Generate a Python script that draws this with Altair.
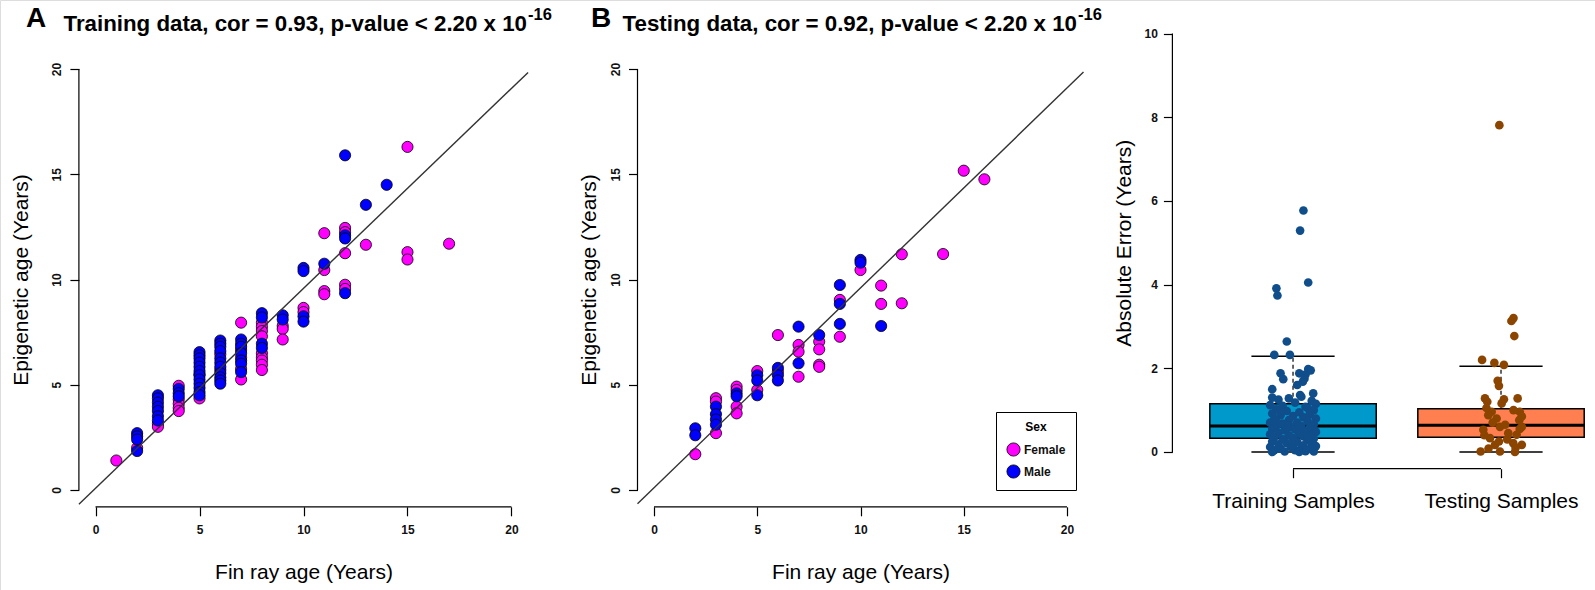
import altair as alt
import pandas as pd

FONT = "Liberation Sans"

# ---------------- data ----------------
# Panel A: training samples (fin ray age, epigenetic age, sex)
train_age = [1,
             2, 2, 2, 2, 2,
             3, 3, 3, 3, 3, 3, 3, 3, 3,
             4, 4, 4, 4, 4, 4, 4, 4,
             5, 5, 5, 5, 5, 5, 5, 5, 5, 5, 5, 5, 5, 5,
             6, 6, 6, 6, 6, 6, 6, 6, 6, 6, 6, 6, 6,
             7, 7, 7, 7, 7, 7, 7, 7, 7, 7, 7, 7,
             8, 8, 8, 8, 8, 8, 8, 8, 8, 8, 8, 8, 8,
             9, 9, 9, 9, 9,
             10, 10, 10, 10, 10, 10,
             11, 11, 11, 11, 11,
             12, 12, 12, 12, 12, 12, 12, 12, 12,
             13, 13,
             14,
             15, 15, 15,
             17]
train_epi = [1.4,
             2.7, 2.55, 2.4, 2.0, 1.85,
             4.5, 4.35, 4.15, 3.95, 3.75, 3.5, 3.3, 3.15, 3.0,
             4.95, 4.8, 4.6, 4.45, 4.3, 4.1, 3.9, 3.75,
             6.55, 6.4, 6.25, 6.05, 5.85, 5.65, 5.5, 5.45, 5.25, 5.05, 4.85, 4.65, 4.5, 4.35,
             7.1, 6.95, 6.8, 6.6, 6.45, 6.25, 6.05, 5.85, 5.7, 5.55, 5.35, 5.2, 5.05,
             7.95, 7.15, 6.95, 6.8, 6.65, 6.5, 6.3, 6.15, 6.0, 5.75, 5.6, 5.25,
             8.4, 8.2, 7.95, 7.75, 7.55, 7.3, 6.95, 6.75, 6.5, 6.3, 6.15, 5.95, 5.7,
             8.3, 8.1, 7.8, 7.65, 7.15,
             10.55, 10.4, 8.65, 8.45, 8.25, 8.0,
             12.2, 10.75, 10.45, 9.45, 9.3,
             15.9, 12.45, 12.25, 12.1, 11.95, 11.25, 9.75, 9.55, 9.35,
             13.55, 11.65,
             14.5,
             16.3, 11.3, 10.95,
             11.7]
train_sex = ["Female",
             "Male", "Male", "Male", "Female", "Male",
             "Male", "Male", "Male", "Male", "Male", "Male", "Male", "Female", "Female",
             "Female", "Male", "Male", "Male", "Female", "Female", "Female", "Female",
             "Male", "Male", "Male", "Male", "Male", "Male", "Female", "Male", "Male", "Male", "Male", "Male", "Male", "Female",
             "Male", "Male", "Male", "Male", "Female", "Male", "Male", "Male", "Female", "Male", "Male", "Male", "Male",
             "Female", "Male", "Male", "Male", "Female", "Male", "Female", "Male", "Male", "Female", "Male", "Female",
             "Male", "Male", "Female", "Female", "Female", "Female", "Male", "Male", "Female", "Female", "Female", "Female", "Female",
             "Male", "Male", "Female", "Female", "Female",
             "Male", "Male", "Female", "Female", "Male", "Male",
             "Female", "Male", "Female", "Female", "Female",
             "Male", "Female", "Female", "Male", "Male", "Female", "Female", "Female", "Male",
             "Male", "Female",
             "Male",
             "Female", "Female", "Female",
             "Female"]

# Panel B: testing samples
test_age = [2, 2, 2,
            3, 3, 3, 3, 3, 3, 3,
            4, 4, 4, 4, 4, 4,
            5, 5, 5, 5, 5,
            6, 6, 6, 6, 6,
            7, 7, 7, 7, 7,
            8, 8, 8, 8, 8,
            9, 9, 9, 9, 9,
            10, 10, 10,
            11, 11, 11,
            12, 12,
            14, 15, 16]
test_epi = [2.93, 2.6, 1.7,
            4.36, 4.2, 3.96, 3.6, 3.35, 3.1, 2.7,
            4.91, 4.75, 4.59, 4.45, 3.96, 3.64,
            5.65, 5.45, 5.2, 4.75, 4.5,
            7.36, 5.8, 5.62, 5.45, 5.2,
            7.76, 6.89, 6.57, 6.02, 5.38,
            7.36, 7.05, 6.68, 5.95, 5.85,
            9.74, 9.03, 8.84, 7.89, 7.28,
            10.93, 10.8, 10.45,
            9.71, 8.84, 7.79,
            11.2, 8.87,
            11.21, 15.17, 14.76]
test_sex = ["Male", "Male", "Female",
            "Female", "Female", "Male", "Male", "Male", "Male", "Female",
            "Female", "Female", "Male", "Male", "Female", "Female",
            "Female", "Male", "Male", "Female", "Male",
            "Female", "Male", "Female", "Male", "Male",
            "Male", "Female", "Female", "Male", "Female",
            "Male", "Female", "Female", "Female", "Female",
            "Male", "Female", "Male", "Male", "Female",
            "Male", "Male", "Female",
            "Female", "Female", "Male",
            "Female", "Female",
            "Female", "Female", "Female"]

# fitted lines (end points across the plot region)
fit_x = [-0.8, 20.8]
fit_a_y = [-0.68, 19.84]
fit_b_y = [-0.66, 19.86]

sex_levels = ["Female", "Male"]
sex_colors = ["#FF00FF", "#0000FF"]

# Panel C: absolute errors with jitter offsets
c_train_jit = [0.05, 0.034, 0.073, -0.08, -0.075, -0.03, -0.09, -0.015, -0.06, -0.047,
               0.03, 0.073, 0.047, -0.10, 0.097, 0.034, 0.06, 0.085, 0.055, 0.02,
               -0.10, -0.07, -0.02, 0.04, 0.09, 0.11, -0.11, -0.05, 0.01, 0.06,
               -0.08, 0.10, -0.03, 0.03, -0.10, 0.08, -0.06, 0.00, 0.05, 0.11,
               -0.09, -0.02, 0.07, -0.11, 0.02, -0.05, 0.10, -0.08, 0.04, -0.01,
               0.08, -0.10, 0.01, -0.04, 0.06, 0.11, -0.07, 0.03, -0.11, 0.09,
               -0.02, 0.05, -0.09, 0.00, 0.10, -0.05, 0.07, -0.10, 0.02, -0.03,
               0.09, -0.07, 0.05, 0.11, -0.11, -0.01, 0.04, -0.06, 0.08, -0.09,
               0.01, 0.06, -0.04, 0.10, -0.10, 0.03, -0.06, 0.07, -0.03, 0.00,
               0.08, -0.08]
c_train_err = [5.77, 5.29, 4.05, 3.91, 3.74, 2.64, 2.32, 2.32, 1.88, 1.74,
               1.88, 1.98, 1.68, 1.50, 1.40, 1.36, 1.85, 1.95, 1.75, 1.60,
               1.30, 1.25, 1.28, 1.32, 1.22, 1.15, 1.12, 1.10, 1.18, 1.08,
               1.02, 1.00, 0.98, 0.95, 0.92, 0.90, 0.88, 0.86, 0.83, 0.80,
               0.78, 0.76, 0.74, 0.70, 0.70, 0.68, 0.66, 0.63, 0.62, 0.60,
               0.58, 0.55, 0.54, 0.52, 0.50, 0.48, 0.46, 0.45, 0.42, 0.41,
               0.40, 0.37, 0.35, 0.33, 0.32, 0.30, 0.28, 0.25, 0.24, 0.21,
               0.20, 0.18, 0.16, 0.14, 0.12, 0.12, 0.10, 0.08, 0.07, 0.04,
               0.04, 0.02, 0.01, 0.01, 0.00, 0.00, 0.95, 1.05, 0.65, 0.15,
               0.38, 0.72]
c_test_jit = [-0.008, 0.05, 0.06, 0.064, -0.091, -0.032, 0.014, -0.016, -0.01, -0.077,
              0.014, 0.08, -0.066, 0.003, -0.045, 0.09, -0.061, -0.021, 0.088, -0.085,
              -0.005, 0.035, 0.075, -0.053, -0.029, 0.059, 0.10, -0.098, -0.005, 0.067,
              -0.07, 0.06, 0.10, -0.04, 0.02, 0.09, -0.08, 0.03, -0.01, 0.07,
              -0.06, 0.10]
c_test_err = [7.81, 3.13, 3.20, 2.77, 2.20, 2.13, 2.08, 1.70, 1.58, 1.28,
              1.26, 1.28, 1.20, 1.16, 0.96, 0.96, 0.88, 0.80, 0.76, 0.53,
              0.60, 0.45, 0.41, 0.33, 0.17, 0.21, 0.17, 0.01, 0.01, 0.00,
              1.05, 1.00, 0.85, 0.70, 0.65, 0.55, 0.40, 0.30, 0.25, 0.10,
              0.08, 0.60]

groups = ["Training Samples", "Testing Samples"]
group_pos = [1, 2]
box_low = [0.0, 0.0]
box_q1 = [0.33, 0.35]
box_med = [0.62, 0.64]
box_q3 = [1.15, 1.03]
box_high = [2.29, 2.05]
box_fill = ["#0099CC", "#FF7F50"]
point_colors = ["#104E8B", "#8B4500"]

title_a = "Training data, cor = 0.93, p-value < 2.20 x 10"
title_b = "Testing data, cor = 0.92, p-value < 2.20 x 10"
title_sup = "-16"
x_title = "Fin ray age (Years)"
y_title = "Epigenetic age (Years)"
c_y_title = "Absolute Error (Years)"

# ---------------- tables ----------------
train_df = pd.DataFrame({"age": train_age, "epi": train_epi, "sex": train_sex}).sort_values("sex", kind="stable")
test_df = pd.DataFrame({"age": test_age, "epi": test_epi, "sex": test_sex}).sort_values("sex", kind="stable")
fit_a = pd.DataFrame({"x": fit_x, "y": fit_a_y})
fit_b = pd.DataFrame({"x": fit_x, "y": fit_b_y})
ends = pd.DataFrame({"a": [0], "b": [20]})
c_ends_y = pd.DataFrame({"a": [0], "b": [10]})
c_ends_x = pd.DataFrame({"a": [group_pos[0]], "b": [group_pos[1]]})
box_df = pd.DataFrame({"grp": groups, "pos": group_pos, "lo": box_low, "q1": box_q1,
                       "med": box_med, "q3": box_q3, "hi": box_high})
c_train = pd.DataFrame({"jit": c_train_jit, "err": c_train_err, "pos": group_pos[0]})
c_test = pd.DataFrame({"jit": c_test_jit, "err": c_test_err, "pos": group_pos[1]})


def sc(domain, rng):
    return alt.Scale(domain=domain, range=rng, nice=False, zero=False)


AXS = sc([-0.8, 20.8], [78.9, 528.1])
AYS = sc([-0.8, 20.8], [506.8, 52.2])
BXS = sc([-0.8, 20.8], [637.5, 1083.5])
BYS = sc([-0.8, 20.8], [506.8, 52.2])
CXS = sc([0.42, 2.45], [1172.4, 1594.6])
CYS = sc([-0.4, 10.4], [468.7, 16.8])
H = 590


def tick_axis(orient, offset, values, title, angle=0, **kw):
    base = dict(orient=orient, offset=offset, values=values, domain=False, grid=False,
                ticks=True, tickSize=9, tickWidth=1.2, tickColor="black",
                labelFont=FONT, labelFontSize=12, labelFontWeight="bold", labelColor="#111111",
                labelAngle=angle,
                title=title, titleFont=FONT, titleFontSize=21, titleFontWeight="normal",
                titleColor="black")
    base.update(kw)
    return alt.Axis(**base)


sex_scale = alt.Scale(domain=sex_levels, range=sex_colors)


def text_layer(txt, x, y, size, align="left", weight="bold"):
    return alt.Chart(pd.DataFrame({"t": [txt]})).mark_text(
        align=align, baseline="middle", font=FONT, fontSize=size, fontWeight=weight, color="black"
    ).encode(text="t:N", x=alt.value(x), y=alt.value(y))


def scatter_panel(df, xs, ys, x_off, y_off, fit, legend, ytp):
    pts = alt.Chart(df).mark_circle(size=125, opacity=1, stroke="black", strokeWidth=0.8).encode(
        x=alt.X("age:Q", scale=xs, axis=tick_axis("bottom", 506.8 - H, [0, 5, 10, 15, 20], x_title,
                                                  labelPadding=9, titlePadding=26, format="d")),
        y=alt.Y("epi:Q", scale=ys, axis=tick_axis("left", -x_off, [0, 5, 10, 15, 20], y_title, angle=270,
                                                  labelAlign="center", labelBaseline="bottom",
                                                  labelPadding=6, titlePadding=ytp, format="d")),
        color=alt.Color("sex:N", scale=sex_scale, legend=legend),
    )
    line = alt.Chart(fit).mark_line(color="#333333", strokeWidth=1.4).encode(
        x=alt.X("x:Q", scale=xs, axis=None), y=alt.Y("y:Q", scale=ys, axis=None))
    yline = alt.Chart(ends).mark_rule(color="black", strokeWidth=1.2).encode(
        x=alt.value(x_off), y=alt.Y("a:Q", scale=ys, axis=None), y2="b:Q")
    xline = alt.Chart(ends).mark_rule(color="black", strokeWidth=1.2).encode(
        y=alt.value(y_off), x=alt.X("a:Q", scale=xs, axis=None), x2="b:Q")
    return [pts, line, yline, xline]


legend_b = alt.Legend(orient="none", legendX=996, legendY=412, title="Sex", titleFont=FONT,
                      titleFontSize=12, titleFontWeight="bold", titleAnchor="middle",
                      titlePadding=8, padding=10, strokeColor="black", labelFont=FONT,
                      labelFontSize=12, labelFontWeight="bold", labelColor="#111111",
                      symbolType="circle", symbolSize=175,
                      symbolStrokeColor="black", symbolStrokeWidth=0.8, rowPadding=5, labelOffset=3)

layers = []
layers += scatter_panel(train_df, AXS, AYS, 78.9, 506.8, fit_a, None, 19)
layers += scatter_panel(test_df, BXS, BYS, 637.5, 506.8, fit_b, legend_b, 10)

# titles
layers += [
    text_layer("A", 36, 19, 28, align="center"),
    text_layer(title_a, 527, 24, 22.3, align="right"),
    text_layer(title_sup, 528, 15, 16.5),
    text_layer("B", 601, 19, 28, align="center"),
    text_layer(title_b, 1077, 24, 22.3, align="right"),
    text_layer(title_sup, 1078, 15, 16.5),
]

# Panel C: box plot
label_expr = f"datum.value == {group_pos[0]} ? '{groups[0]}' : '{groups[1]}'"
box_base = alt.Chart(box_df).transform_calculate(
    l="datum.pos - 0.4", r="datum.pos + 0.4", cl="datum.pos - 0.2", cr="datum.pos + 0.2")
boxes = box_base.mark_rect(stroke="black", strokeWidth=1.5).encode(
    x=alt.X("l:Q", scale=CXS, axis=tick_axis("bottom", 468.7 - H, group_pos, None, labelExpr=label_expr,
                                              labelFontSize=21, labelFontWeight="normal",
                                              labelColor="black", labelPadding=13)),
    x2="r:Q",
    y=alt.Y("q1:Q", scale=CYS, axis=tick_axis("left", -1172.4, [0, 2, 4, 6, 8, 10], c_y_title,
                                               labelPadding=6, titlePadding=10, format="d")),
    y2="q3:Q",
    color=alt.Color("grp:N", scale=alt.Scale(domain=groups, range=box_fill), legend=None),
)
whisk_up = box_base.mark_rule(color="black", strokeWidth=1.2, strokeDash=[4, 3]).encode(
    x=alt.X("pos:Q", scale=CXS, axis=None), y=alt.Y("q3:Q", scale=CYS, axis=None), y2="hi:Q")
whisk_lo = box_base.mark_rule(color="black", strokeWidth=1.2, strokeDash=[4, 3]).encode(
    x=alt.X("pos:Q", scale=CXS, axis=None), y=alt.Y("lo:Q", scale=CYS, axis=None), y2="q1:Q")
cap_hi = box_base.mark_rule(color="black", strokeWidth=1.5).encode(
    x=alt.X("cl:Q", scale=CXS, axis=None), x2="cr:Q", y=alt.Y("hi:Q", scale=CYS, axis=None))
cap_lo = box_base.mark_rule(color="black", strokeWidth=1.5).encode(
    x=alt.X("cl:Q", scale=CXS, axis=None), x2="cr:Q", y=alt.Y("lo:Q", scale=CYS, axis=None))
median = box_base.mark_rule(color="black", strokeWidth=3).encode(
    x=alt.X("l:Q", scale=CXS, axis=None), x2="r:Q", y=alt.Y("med:Q", scale=CYS, axis=None))


def jitter_layer(df, color):
    return alt.Chart(df).transform_calculate(px="datum.pos + datum.jit").mark_circle(
        size=75, opacity=1, color=color).encode(
        x=alt.X("px:Q", scale=CXS, axis=None), y=alt.Y("err:Q", scale=CYS, axis=None))


c_yline = alt.Chart(c_ends_y).mark_rule(color="black", strokeWidth=1.2).encode(
    x=alt.value(1172.4), y=alt.Y("a:Q", scale=CYS, axis=None), y2="b:Q")
c_xline = alt.Chart(c_ends_x).mark_rule(color="black", strokeWidth=1.2).encode(
    y=alt.value(468.7), x=alt.X("a:Q", scale=CXS, axis=None), x2="b:Q")

layers += [boxes, whisk_up, whisk_lo, cap_hi, cap_lo, median,
           jitter_layer(c_train, point_colors[0]), jitter_layer(c_test, point_colors[1]),
           c_yline, c_xline]

chart = alt.layer(*layers).resolve_scale(
    x="independent", y="independent", color="independent"
).properties(
    width=1595, height=590, autosize=alt.AutoSizeParams(type="none"), padding=0
).configure_view(stroke=None).configure(background="white")

chart.save("out.html", embed_options={"renderer": "svg", "actions": False})
